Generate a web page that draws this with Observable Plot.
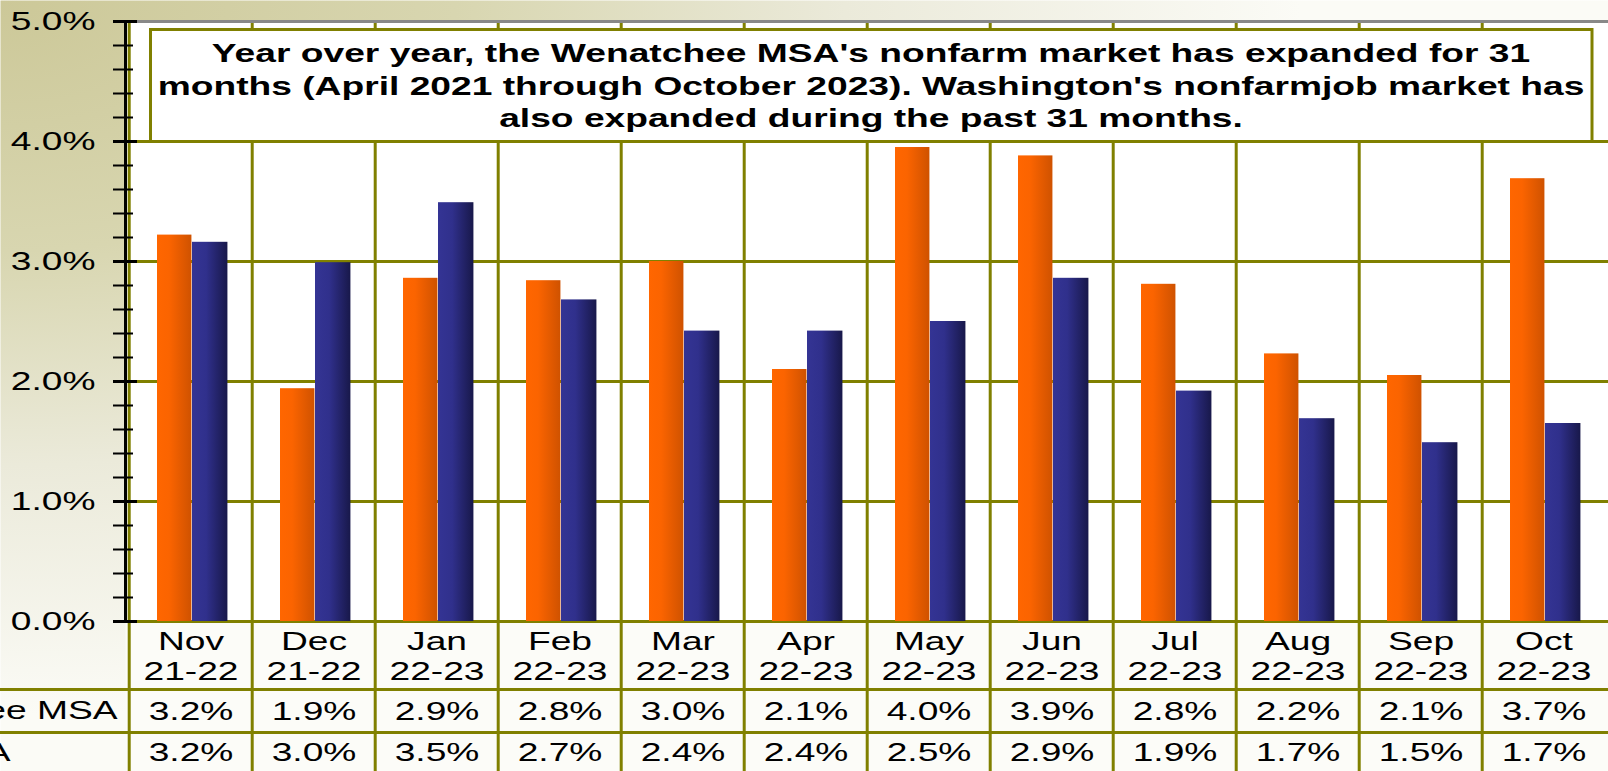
<!DOCTYPE html>
<html><head><meta charset="utf-8">
<script src="https://cdn.jsdelivr.net/npm/d3@7"></script>
<script src="https://cdn.jsdelivr.net/npm/@observablehq/plot@0.6"></script>
<style>html,body{margin:0;padding:0;background:#fff;overflow:hidden}</style>
</head><body><div id="chart"></div><script>
const months = ["Nov","Dec","Jan","Feb","Mar","Apr","May","Jun","Jul","Aug","Sep","Oct"];
const periods = ["21-22","21-22","22-23","22-23","22-23","22-23","22-23","22-23","22-23","22-23","22-23","22-23"];
const msa = [3.22,1.94,2.86,2.84,3.00,2.10,3.95,3.88,2.81,2.23,2.05,3.69];
const wa  = [3.16,2.99,3.49,2.68,2.42,2.42,2.50,2.86,1.92,1.69,1.49,1.65];
const msaLabels = ["3.2%","1.9%","2.9%","2.8%","3.0%","2.1%","4.0%","3.9%","2.8%","2.2%","2.1%","3.7%"];
const waLabels  = ["3.2%","3.0%","3.5%","2.7%","2.4%","2.4%","2.5%","2.9%","1.9%","1.7%","1.5%","1.7%"];
const seriesNames = ["Wenatchee MSA","WA"];
const yTicks = [0,1,2,3,4,5];
const yTickLabels = ["0.0%","1.0%","2.0%","3.0%","4.0%","5.0%"];
const minorTicks = d3.range(0, 5.001, 0.2);
const titleLines = [
  "Year over year, the Wenatchee MSA's nonfarm market has expanded for 31",
  "months (April 2021 through October 2023). Washington's nonfarmjob market has",
  "also expanded during the past 31 months."
];

const rows = months.map((m, i) => ({month: m, period: periods[i], msa: msa[i], wa: wa[i], msaLabel: msaLabels[i], waLabel: waLabels[i]}));

const W = 1608, H = 771, mL = 125, mT = 21, mB = 150, mR = 0;
const frameW = W - mL - mR;
const bw = frameW / months.length;
const olive = "#808000";
const FS = 26;
const STRETCH = 1.43;

const svg = Plot.plot({
  width: W, height: H, marginTop: mT, marginBottom: mB, marginLeft: mL, marginRight: mR,
  x: {domain: months, padding: 0, axis: null},
  y: {domain: [0, 5], axis: null},
  style: {fontFamily: "'Liberation Sans', Arial, sans-serif", fontSize: FS + "px", color: "#000", background: "transparent", overflow: "visible"},
  marks: [
    Plot.frame({fill: "url(#bgGrad)", stroke: null, insetLeft: -mL, insetTop: -mT, insetBottom: -mB, insetRight: -mR}),
    Plot.frame({fill: "#fff", stroke: null}),
    Plot.frame({fill: "#fcfcf8", stroke: null, insetTop: H - mT - mB, insetBottom: -mB}),
    Plot.ruleY([1, 2, 3, 4], {stroke: olive, strokeWidth: 3}),
    Plot.ruleX(months, {x: d => d, dx: -bw / 2, stroke: olive, strokeWidth: 3, insetBottom: -mB}),
    Plot.ruleY([5], {stroke: "#888", strokeWidth: 3}),
    Plot.ruleY([0], {stroke: olive, strokeWidth: 3}),
    Plot.ruleY([0], {dy: 68, stroke: olive, strokeWidth: 3, insetLeft: -mL}),
    Plot.ruleY([0], {dy: 111, stroke: olive, strokeWidth: 3, insetLeft: -mL}),
    Plot.barY(rows, {x: "month", y: "msa", fill: "url(#gOrange)", insetLeft: 28, insetRight: bw - 63}),
    Plot.barY(rows, {x: "month", y: "wa", fill: "url(#gBlue)", insetLeft: 63, insetRight: bw - 99}),
    Plot.frame({anchor: "left", stroke: "#000", strokeWidth: 3}),
    Plot.ruleY(minorTicks, {stroke: "#000", strokeWidth: 2, insetLeft: -12, insetRight: frameW - 8}),
    Plot.ruleY(yTicks, {stroke: "#000", strokeWidth: 3, insetLeft: -12, insetRight: frameW - 12}),
    Plot.text(yTicks, {y: d => d, text: (d, i) => yTickLabels[i], frameAnchor: "left", textAnchor: "end", lineAnchor: "middle", dx: -30, fontSize: FS, fill: "#000"}),
    Plot.frame({fill: "#fff", stroke: olive, strokeWidth: 3, insetLeft: 25, insetTop: 8, insetRight: 16.5, insetBottom: 480}),
    ...titleLines.map((line, i) => Plot.text([line], {text: d => d, frameAnchor: "top", lineAnchor: "middle", dx: 4, dy: 32.5 + i * 32.3, fontSize: FS, fontWeight: "bold", fill: "#000"})),
    Plot.text(rows, {x: "month", text: "month", frameAnchor: "bottom", lineAnchor: "middle", dy: 20, fontSize: FS, fill: "#000"}),
    Plot.text(rows, {x: "month", text: "period", frameAnchor: "bottom", lineAnchor: "middle", dy: 50, fontSize: FS, fill: "#000"}),
    Plot.text(rows, {x: "month", text: "msaLabel", frameAnchor: "bottom", lineAnchor: "middle", dy: 90, fontSize: FS, fill: "#000"}),
    Plot.text(rows, {x: "month", text: "waLabel", frameAnchor: "bottom", lineAnchor: "middle", dy: 131, fontSize: FS, fill: "#000"}),
    Plot.text([seriesNames[0]], {text: d => d, frameAnchor: "bottom-left", textAnchor: "end", lineAnchor: "middle", dx: -8, dy: 89, fontSize: FS, fill: "#000"}),
    Plot.text([seriesNames[1]], {text: d => d, frameAnchor: "bottom-left", textAnchor: "end", lineAnchor: "middle", dx: -115, dy: 131, fontSize: FS, fill: "#000"})
  ]
});

d3.select(svg).insert("defs", ":first-child").html(`
  <radialGradient id="bgGrad" gradientUnits="userSpaceOnUse" cx="0" cy="0" r="1300" gradientTransform="scale(1,0.55)">
    <stop offset="0" stop-color="#ccc898"/>
    <stop offset="0.35" stop-color="#d8d6b0"/>
    <stop offset="0.65" stop-color="#ebeada"/>
    <stop offset="1" stop-color="#fbfbf6"/>
  </radialGradient>
  <linearGradient id="gOrange" x1="0" x2="1" y1="0" y2="0">
    <stop offset="0" stop-color="#ff6600"/>
    <stop offset="0.35" stop-color="#fb6400"/>
    <stop offset="1" stop-color="#cf5200"/>
  </linearGradient>
  <linearGradient id="gBlue" x1="0" x2="1" y1="0" y2="0">
    <stop offset="0" stop-color="#343494"/>
    <stop offset="0.4" stop-color="#30308c"/>
    <stop offset="1" stop-color="#18184a"/>
  </linearGradient>
`);

document.getElementById("chart").appendChild(svg);

svg.querySelectorAll("text").forEach(t => {
  const len = t.getComputedTextLength();
  if (len > 0) {
    t.setAttribute("textLength", (len * STRETCH).toFixed(1));
    t.setAttribute("lengthAdjust", "spacingAndGlyphs");
  }
});
</script></body></html>
